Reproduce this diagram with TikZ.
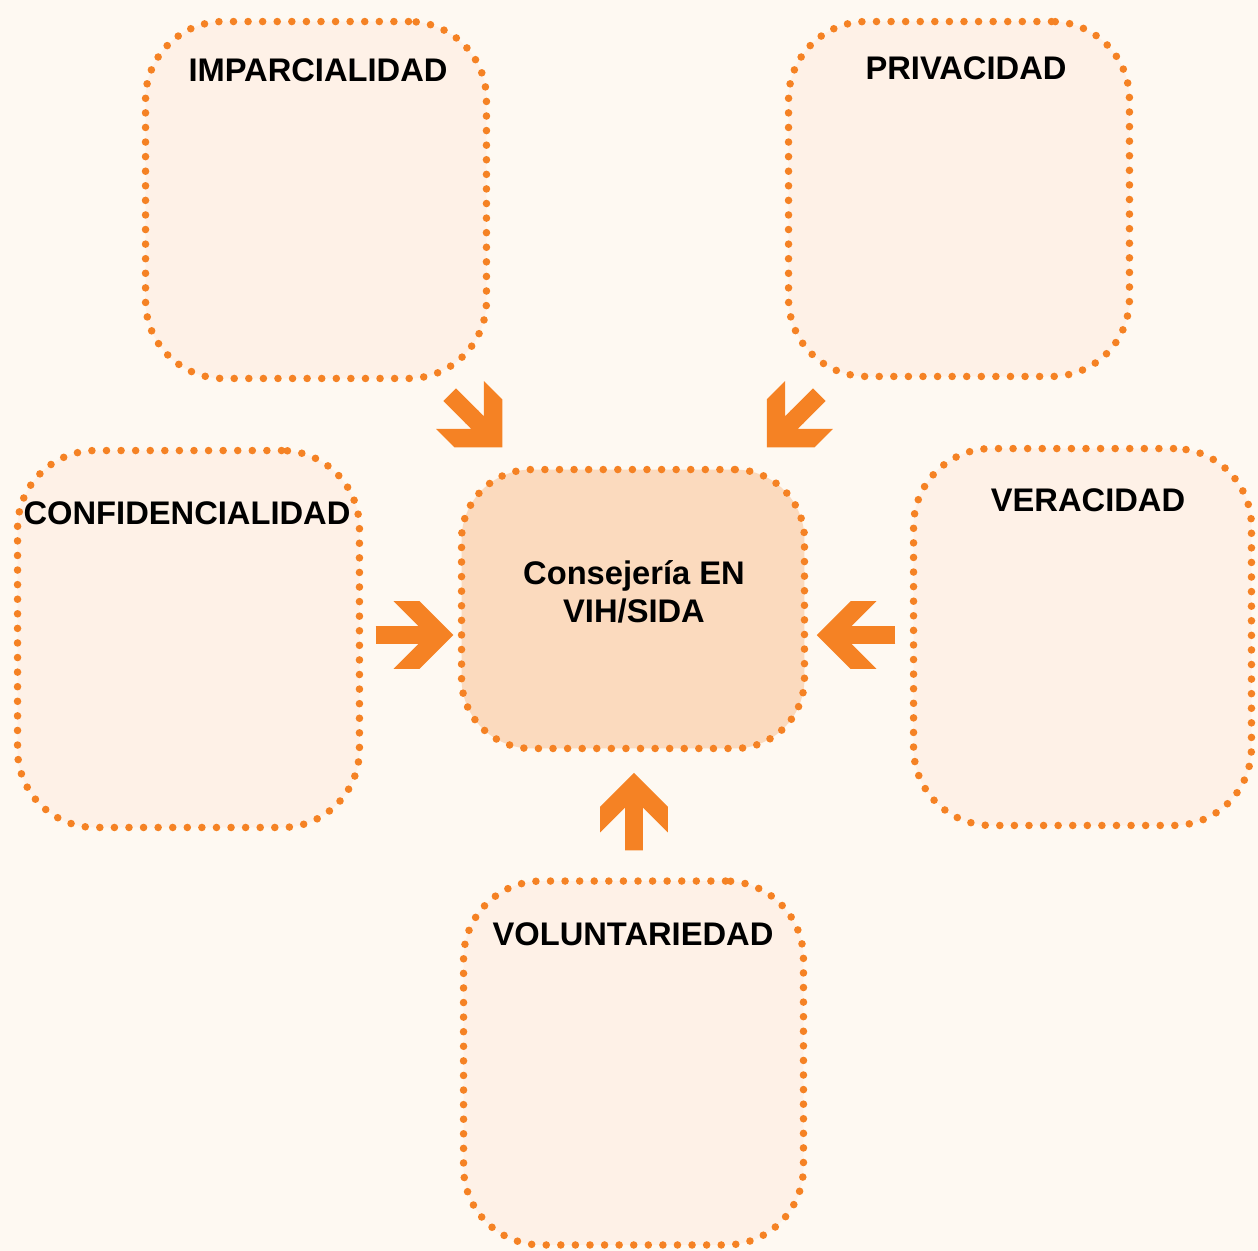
\documentclass[tikz,border=0pt]{standalone}
\usepackage{fontspec}
\setmainfont{Liberation Sans}
\usetikzlibrary{calc}

\definecolor{bgcream}{RGB}{254,249,242}
\definecolor{boxpeach}{RGB}{254,241,231}
\definecolor{centerpeach}{RGB}{251,218,190}
\definecolor{dotorange}{RGB}{245,130,36}

\pgfdeclarearrow{
  name = Chevron,
  setup code = {
    \pgfarrowssettipend{0pt}
    \pgfarrowssetlineend{-24pt}
    \pgfarrowssetbackend{-34pt}
    \pgfarrowssetvisualbackend{-34pt}
    \pgfarrowsupperhullpoint{0pt}{0pt}
    \pgfarrowsupperhullpoint{-19.3pt}{19.3pt}
    \pgfarrowsupperhullpoint{-34pt}{19.3pt}
  },
  drawing code = {
    \pgfsetfillcolor{dotorange}
    \pgfpathmoveto{\pgfpoint{0pt}{0pt}}
    \pgfpathlineto{\pgfpoint{-19.3pt}{19.3pt}}
    \pgfpathlineto{\pgfpoint{-34pt}{19.3pt}}
    \pgfpathlineto{\pgfpoint{-19.8pt}{5.1pt}}
    \pgfpathlineto{\pgfpoint{-25pt}{5.1pt}}
    \pgfpathlineto{\pgfpoint{-25pt}{-5.1pt}}
    \pgfpathlineto{\pgfpoint{-19.8pt}{-5.1pt}}
    \pgfpathlineto{\pgfpoint{-34pt}{-19.3pt}}
    \pgfpathlineto{\pgfpoint{-19.3pt}{-19.3pt}}
    \pgfpathclose
    \pgfusepathqfill
  }
}

\begin{document}
\begin{tikzpicture}[x = 0.02cm, y = -0.02cm,
        box/.style = {draw = dotorange, fill = boxpeach, line width = 4.3pt,
            dash pattern = on 0pt off 8.3pt, line cap = round,
            rounded corners = 1.56cm, minimum width = 6.82cm, inner sep = 0pt},
        title/.style = {font = \fontsize{18.6}{22}\selectfont\bfseries},
        bigarrow/.style = {draw = dotorange, line width = 10.2pt, arrows = -Chevron}]
        \fill [bgcream] (0,0) rectangle (1258,1251);
        \useasboundingbox (0,0) rectangle (1258,1251);

        \node [box, minimum height = 7.14cm] (imp) at (316,200) {};
        \node [box, minimum height = 7.10cm] (priv) at (959,199) {};
        \node [box, minimum width = 6.84cm, minimum height = 7.54cm] (conf) at (188.5,639) {};
        \node [box, minimum width = 6.76cm, minimum height = 7.54cm] (ver) at (1082.5,637) {};
        \node [box, fill = centerpeach, minimum width = 6.86cm, minimum height = 5.58cm,
            rounded corners = 1.4cm] (cen) at (633,609) {};
        \node [box, minimum width = 6.8cm, minimum height = 7.28cm] (vol) at (633.5,1063) {};

        \node [title] (impT) at (318,70) {IMPARCIALIDAD};
        \node [title] (privT) at (966,68) {PRIVACIDAD};
        \node [title] (confT) at (187,513) {CONFIDENCIALIDAD};
        \node [title] (verT) at (1088,500) {VERACIDAD};
        \node [title] (volT) at (633,934) {VOLUNTARIEDAD};
        \node [title, align = center] (cenT) at (634,592) {Consejería EN\\VIH/SIDA};

        \draw [bigarrow] ($(imp.south east)+(-40.5,12.5)$) -- ($(cen.north west)+(44.5,-18.5)$);
        \draw [bigarrow] ($(priv.south west)+(34.5,14.5)$) -- ($(cen.north east)+(-41.5,-18.5)$);
        \draw [bigarrow] ($(conf.east)+(12.5,-4)$) -- ($(cen.west)+(-4.5,26)$);
        \draw [bigarrow] ($(ver.west)+(-14.5,-2)$) -- ($(cen.east)+(8.5,26)$);
        \draw [bigarrow] ($(vol.north)+(0.5,-27)$) -- ($(cen.south)+(1,20.5)$);
    \end{tikzpicture}
\end{document}
